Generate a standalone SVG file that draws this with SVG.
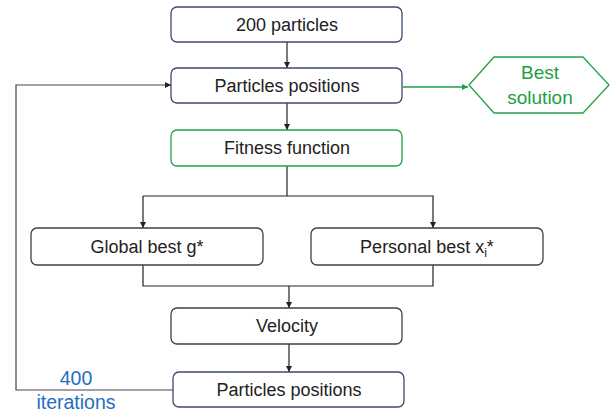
<svg xmlns="http://www.w3.org/2000/svg" width="612" height="416" viewBox="0 0 612 416">
<defs>
<marker id="ah" viewBox="0 0 10 10" refX="10" refY="5" markerWidth="6" markerHeight="6" orient="auto" markerUnits="userSpaceOnUse"><path d="M0,0 L10,5 L0,10 z" fill="#222"/></marker>
<marker id="ahg" viewBox="0 0 10 10" refX="10" refY="5" markerWidth="6" markerHeight="6" orient="auto" markerUnits="userSpaceOnUse"><path d="M0,0 L10,5 L0,10 z" fill="#1e9e45"/></marker>
<style>
.bx{fill:#fff;stroke:#3b4a70;stroke-width:1.3}
.gx{fill:#fff;stroke:#404040;stroke-width:1.3}
.gr{fill:#fff;stroke:#22a34a;stroke-width:1.3}
.t{font-family:"Liberation Sans",Arial,sans-serif;font-size:18px;fill:#222;text-anchor:middle}
.tg{font-family:"Liberation Sans",Arial,sans-serif;font-size:19px;fill:#1e9e45;text-anchor:middle}
.tb{font-family:"Liberation Sans",Arial,sans-serif;font-size:19.5px;fill:#1f6fc0;text-anchor:middle}
.c{fill:none;stroke:#222;stroke-width:1.2}
.cg{fill:none;stroke:#1e9e45;stroke-width:1.5}
.cl{fill:none;stroke:#444;stroke-width:1.2}
</style>
</defs>
<g id="connectors">
<line class="c" x1="287" y1="42" x2="287" y2="68" marker-end="url(#ah)"/>
<line class="c" x1="287" y1="103" x2="287" y2="130" marker-end="url(#ah)"/>
<line class="cg" x1="403" y1="87" x2="468" y2="87" marker-end="url(#ahg)"/>
<polyline class="c" points="287,166 287,196"/>
<polyline class="c" points="143,196 433,196 433,228" marker-end="url(#ah)"/>
<line class="c" x1="143" y1="196" x2="143" y2="228" marker-end="url(#ah)"/>
<polyline class="c" points="143,265 143,286 433,286 433,265"/>
<line class="c" x1="289" y1="286" x2="289" y2="308" marker-end="url(#ah)"/>
<line class="c" x1="289" y1="344" x2="289" y2="372" marker-end="url(#ah)"/>
<polyline class="cl" points="173,390 16,390 16,85 171,85" marker-end="url(#ah)"/>
</g>
<g id="n_200">
<rect class="bx" x="171" y="7" width="231" height="35" rx="6"/>
<text class="t" x="287" y="31">200 particles</text>
</g>
<g id="n_pos1">
<rect class="bx" x="171" y="68" width="231" height="35" rx="6"/>
<text class="t" x="287" y="92">Particles positions</text>
</g>
<g id="n_best">
<polygon points="469,85 494,57 583,57 609,85 583,113 494,113" fill="#fff" stroke="#22a34a" stroke-width="1.3"/>
<text class="tg" x="540" y="79">Best</text>
<text class="tg" x="540" y="104">solution</text>
</g>
<g id="n_fit">
<rect class="gr" x="171" y="130" width="231" height="36" rx="6"/>
<text class="t" x="287" y="154">Fitness function</text>
</g>
<g id="n_global">
<rect class="gx" x="31" y="228" width="232" height="37" rx="6"/>
<text class="t" x="147" y="253">Global best g*</text>
</g>
<g id="n_personal">
<rect class="gx" x="311" y="228" width="232" height="37" rx="6"/>
<text class="t" x="427" y="253">Personal best x<tspan font-size="12" dy="4">i</tspan><tspan dy="-4">*</tspan></text>
</g>
<g id="n_vel">
<rect class="gx" x="171" y="308" width="231" height="36" rx="6"/>
<text class="t" x="287" y="332">Velocity</text>
</g>
<g id="n_pos2">
<rect class="bx" x="173" y="372" width="231" height="35" rx="6"/>
<text class="t" x="289" y="396">Particles positions</text>
</g>
<g id="n_iter">
<text class="tb" x="76" y="385">400</text>
<text class="tb" x="76" y="409">iterations</text>
</g>
</svg>
